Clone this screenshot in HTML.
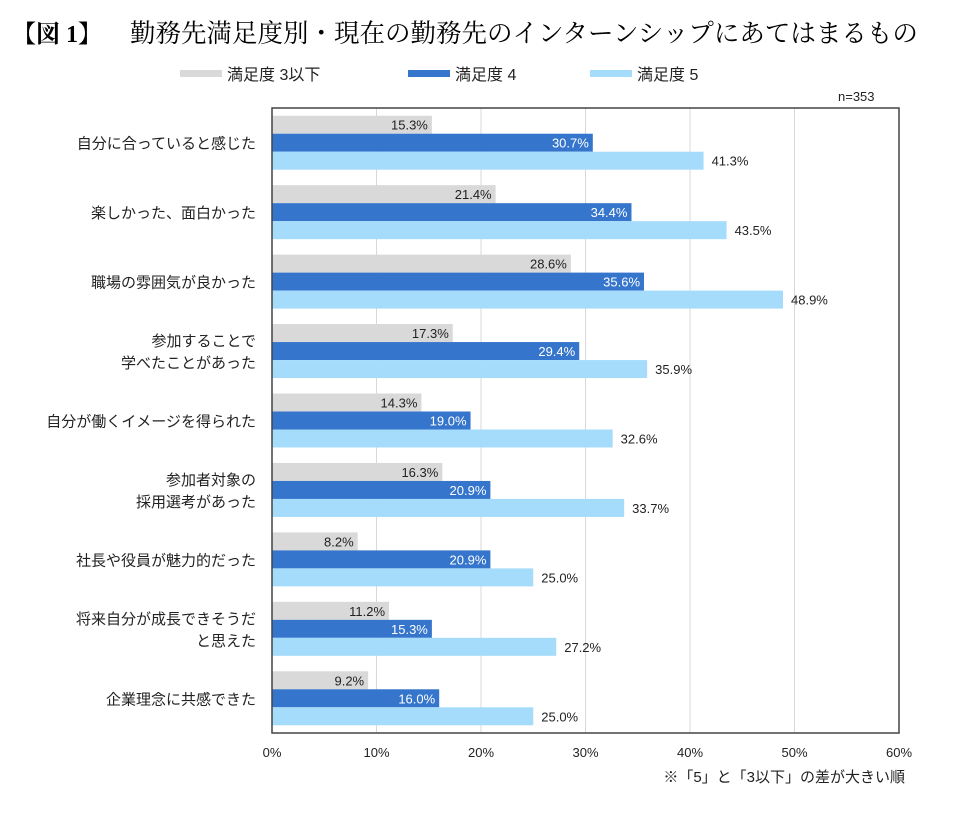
<!DOCTYPE html>
<html><head><meta charset="utf-8"><style>
body{margin:0;background:#fff;width:964px;height:828px;overflow:hidden;font-family:"Liberation Sans","Noto Sans CJK JP",sans-serif;}
</style></head><body>
<svg width="964" height="828" viewBox="0 0 964 828" xmlns="http://www.w3.org/2000/svg">
<text x="12" y="42" font-size="24" font-weight="bold" font-family="Liberation Serif,Noto Serif CJK SC,serif">【図 1】</text>
<text x="130" y="42" font-size="25.5" font-family="Liberation Serif,Noto Serif CJK SC,serif">勤務先満足度別・現在の勤務先のインターンシップにあてはまるもの</text>
<g id="legend"></g>
<text x="838" y="101" font-size="13" fill="#222">n=353</text>
<g id="grid"></g>
<g id="bars"></g>
<g id="cats"></g>
<rect x="272" y="108" width="627" height="625" fill="none" stroke="#444" stroke-width="1.5"/>
<g id="ticks"></g>
<text x="905" y="782" font-size="15" text-anchor="end" fill="#222">※「5」と「3以下」の差が大きい順</text>
</svg>
<script>
const categories=[["自分に合っていると感じた"],["楽しかった、面白かった"],["職場の雰囲気が良かった"],["参加することで","学べたことがあった"],["自分が働くイメージを得られた"],["参加者対象の","採用選考があった"],["社長や役員が魅力的だった"],["将来自分が成長できそうだ","と思えた"],["企業理念に共感できた"]];
const seriesNames=["満足度 3以下","満足度 4","満足度 5"];
const s3=[15.3,21.4,28.6,17.3,14.3,16.3,8.2,11.2,9.2];
const s4=[30.7,34.4,35.6,29.4,19.0,20.9,20.9,15.3,16.0];
const s5=[41.3,43.5,48.9,35.9,32.6,33.7,25.0,27.2,25.0];
const ticks=[0,10,20,30,40,50,60];
const NS="http://www.w3.org/2000/svg";
const X0=272,X1=899,Y0=108,Y1=733,XMAX=60;
const colors=["#d9d9d9","#3575cc","#a6dcfb"];
const xs=v=>X0+v/XMAX*(X1-X0);
const band=(Y1-Y0)/categories.length;
const BH=18;
function mk(tag,attrs,parent,txt){const e=document.createElementNS(NS,tag);for(const k in attrs)e.setAttribute(k,attrs[k]);if(txt!=null)e.textContent=txt;document.getElementById(parent).appendChild(e);return e;}
ticks.forEach(t=>{
 if(t>0&&t<XMAX){const l=mk('line',{x1:xs(t),x2:xs(t),y1:Y0,y2:Y1,stroke:'#d8d8d8','stroke-width':1},'grid');
 
 }
 const tx=mk('text',{x:xs(t),y:757,'font-size':13,'text-anchor':'middle',fill:'#222'},'ticks',t+'%');
 
 
});
const series=[s3,s4,s5];
categories.forEach((c,i)=>{
 const gy=Y0+i*band+(band-3*BH)/2;
 series.forEach((s,k)=>{
  const v=s[i];const y=gy+k*BH;
  const r=mk('rect',{x:X0,y:y,width:xs(v)-X0,height:BH,fill:colors[k]},'bars');
  
  
  let tx;
  if(k===2) tx=mk('text',{x:xs(v)+8,y:y+14,'font-size':13,fill:'#222'},'bars',v.toFixed(1)+'%');
  else tx=mk('text',{x:xs(v)-4,y:y+14,'font-size':13,'text-anchor':'end',fill:k===1?'#fff':'#222'},'bars',v.toFixed(1)+'%');
  
  
 });
 const cy=Y0+i*band+band/2;
 c.forEach((line,j)=>{
  const y=cy+6+(j-(c.length-1)/2)*22;
  const t=mk('text',{x:256,y:y,'font-size':15,'text-anchor':'end',fill:'#222'},'cats',line);
  
  
 });
});
const lx=[180,408,590];
seriesNames.forEach((n,k)=>{
 const r=mk('rect',{x:lx[k],y:70,width:42,height:7,fill:colors[k]},'legend');
 
 
 const t=mk('text',{x:lx[k]+47,y:80,'font-size':16,fill:'#222'},'legend',n);
 
 
});
</script>
</body></html>
